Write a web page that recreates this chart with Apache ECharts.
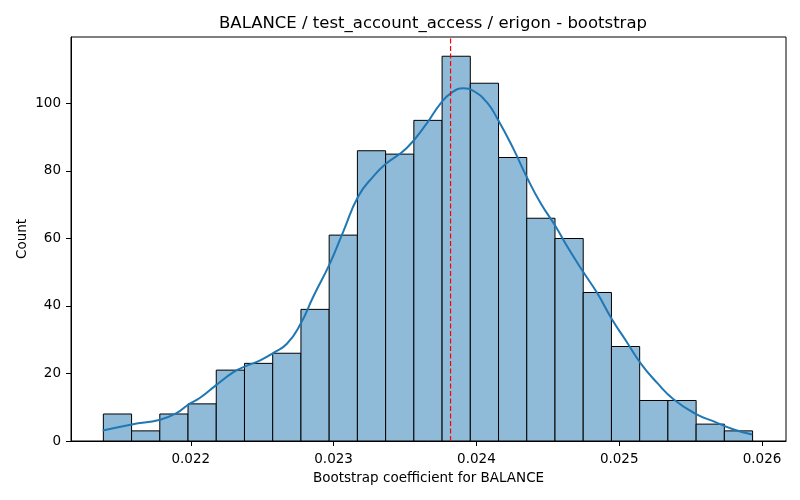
<!DOCTYPE html>
<html>
<head>
<meta charset="utf-8">
<script src="https://cdn.jsdelivr.net/npm/echarts@6/dist/echarts.min.js"></script>
<style>
  html, body { margin: 0; padding: 0; background: #fff; }
  #chart { width: 800px; height: 500px; }
</style>
</head>
<body>
<div id="chart"></div>
<script>
// histogram bins: first left edge, last right edge, counts per bin
var binMin = 0.0213875;
var binMax = 0.025934;
var counts = [8, 3, 8, 11, 21, 23, 26, 39, 61, 86, 85, 95, 114, 106, 84, 66, 60, 44, 28, 12, 12, 5, 3];

// kde curve
var kdeX = [0.021383, 0.021587, 0.021785, 0.021902, 0.021983, 0.022065, 0.022182, 0.022299,
    0.022381, 0.022486, 0.022579, 0.022673, 0.022766, 0.022859, 0.022976, 0.023069,
    0.023174, 0.023280, 0.023362, 0.023514, 0.023654, 0.023747, 0.023829, 0.023910,
    0.023980, 0.024074, 0.024156, 0.024261, 0.024355, 0.024448, 0.024553, 0.024635,
    0.024751, 0.024845, 0.024950, 0.025043, 0.025149, 0.025266, 0.025382, 0.025546,
    0.025662, 0.025802, 0.025931];
var kdeY = [3.1, 4.9, 6.3, 8.3, 10.8, 12.8, 16.7, 20.4,
    22.1, 23.9, 26.1, 28.8, 34.5, 42.9, 52.8, 62.2,
    72.6, 78.5, 82.0, 86.9, 94.2, 99.9, 103.3, 104.5,
    103.7, 100.3, 94.8, 86.4, 78.0, 70.6, 63.7, 57.7,
    49.9, 43.9, 36.0, 30.0, 23.1, 17.2, 12.3, 7.8,
    5.8, 3.4, 1.9];

var meanLine = 0.023819;
var xTicks = [0.022, 0.023, 0.024, 0.025, 0.026];
var yTicks = [0, 20, 40, 60, 80, 100];
var yMax = 119.7;

var binWidth = (binMax - binMin) / counts.length;
var barData = counts.map(function (c, i) {
    return [binMin + i * binWidth, binMin + (i + 1) * binWidth, c];
});
var kdeData = kdeX.map(function (x, i) { return [x, kdeY[i]]; });

var font = 'DejaVu Sans';
var chart = echarts.init(document.getElementById('chart'));
chart.setOption({
    animation: false,
    backgroundColor: '#fff',
    title: {
        text: 'BALANCE / test_account_access / erigon - bootstrap',
        left: 428,
        textAlign: 'center',
        top: 10,
        textStyle: {fontFamily: font, fontSize: 16.5, fontWeight: 'normal', color: '#000'}
    },
    grid: {
        left: 71, right: 14, top: 37, bottom: 59,
        show: true, borderColor: '#000', borderWidth: 1
    },
    xAxis: {
        type: 'value',
        min: 0.021161,
        max: 0.026168,
        name: 'Bootstrap coefficient for BALANCE',
        nameLocation: 'middle',
        nameGap: 30,
        nameTextStyle: {fontFamily: font, fontSize: 13.5, color: '#000'},
        splitLine: {show: false},
        axisLine: {show: true, lineStyle: {color: '#000', width: 1}},
        axisTick: {show: true, inside: false, length: 5, customValues: xTicks, lineStyle: {color: '#000'}},
        axisLabel: {
            customValues: xTicks, margin: 11,
            fontFamily: font, fontSize: 13.5, color: '#000',
            formatter: function (v) { return v.toFixed(3); }
        }
    },
    yAxis: {
        type: 'value',
        min: 0,
        max: yMax,
        name: 'Count',
        nameLocation: 'middle',
        nameGap: 42,
        nameMoveOverlap: false,
        nameTextStyle: {fontFamily: font, fontSize: 13.5, color: '#000'},
        splitLine: {show: false},
        axisLine: {show: true, lineStyle: {color: '#000', width: 1}},
        axisTick: {show: true, inside: false, length: 5, customValues: yTicks, lineStyle: {color: '#000'}},
        axisLabel: {
            customValues: yTicks, margin: 10,
            fontFamily: font, fontSize: 13.5, color: '#000'
        }
    },
    series: [
        {
            type: 'custom',
            name: 'hist',
            data: barData,
            encode: {x: [0, 1], y: 2},
            renderItem: function (params, api) {
                var p0 = api.coord([api.value(0), 0]);
                var p1 = api.coord([api.value(1), api.value(2)]);
                return {
                    type: 'rect',
                    shape: {x: p0[0], y: p1[1], width: p1[0] - p0[0], height: p0[1] - p1[1]},
                    style: {fill: '#8fbbd9', stroke: '#000', lineWidth: 1}
                };
            },
            z: 2
        },
        {
            type: 'line',
            name: 'kde',
            data: kdeData,
            showSymbol: false,
            smooth: 0.5,
            lineStyle: {color: '#1f77b4', width: 2},
            z: 3
        },
        {
            type: 'line',
            name: 'mean',
            data: [[meanLine, 0], [meanLine, yMax]],
            showSymbol: false,
            silent: true,
            lineStyle: {color: '#ff0000', width: 1.2, type: [5, 2.5]},
            z: 4
        }
    ]
});
</script>
</body>
</html>
